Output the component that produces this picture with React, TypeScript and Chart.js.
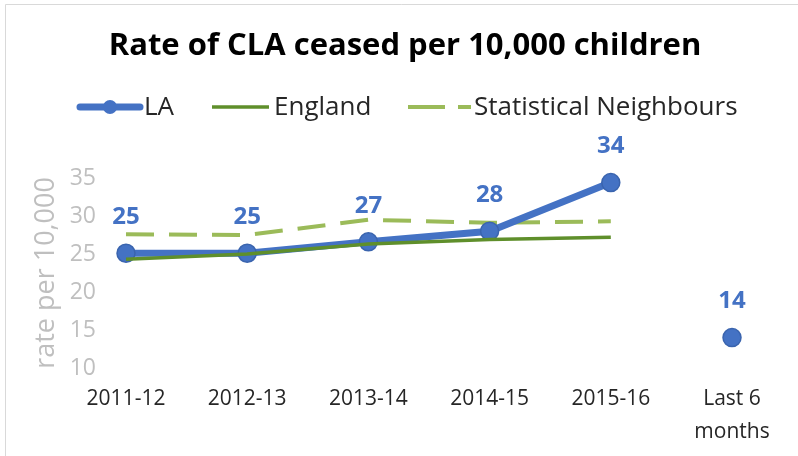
import React, { useEffect, useRef } from "react";
import { Chart, registerables } from "chart.js";

Chart.register(...registerables);

const categories: (string | string[])[] = ["2011-12", "2012-13", "2013-14", "2014-15", "2015-16", ["Last 6", "months"]];
const laValues: (number | null)[] = [25.1, 25.1, 26.6, 28.0, 34.4, 14.0];
const laLabels: string[] = ["25", "25", "27", "28", "34", "14"];
const englandValues: (number | null)[] = [24.3, 25.0, 26.3, 26.9, 27.2, null];
const snValues: (number | null)[] = [27.6, 27.5, 29.5, 29.1, 29.3, null];
const yTicks = { min: 10, max: 35, step: 5 };

const TITLE = "Rate of CLA ceased per 10,000 children";
const BLUE = "#4472C4";
const BLUE_DARK = "#3A64AE";
const GREEN = "#5F8F2B";
const LIGHT_GREEN = "#9BBB59";
const GRAY = "#BFBFBF";
const TEXT = "#262626";

const decorPlugin = {
  id: "decor",
  beforeDraw(chart: any) {
    const ctx = chart.ctx;
    ctx.save();
    ctx.fillStyle = "#ffffff";
    ctx.fillRect(0, 0, chart.width, chart.height);
    ctx.strokeStyle = "#D9D9D9";
    ctx.lineWidth = 1;
    ctx.beginPath();
    ctx.moveTo(5.5, chart.height);
    ctx.lineTo(5.5, 4.5);
    ctx.lineTo(chart.width, 4.5);
    ctx.stroke();
    ctx.restore();
  },
  afterDraw(chart: any) {
    const ctx = chart.ctx;
    ctx.save();
    // title
    ctx.fillStyle = "#000000";
    ctx.font = "bold 31px 'Open Sans'";
    ctx.textAlign = "center";
    ctx.textBaseline = "middle";
    ctx.fillText(TITLE, 405, 46);

    // legend
    const ly = 107;
    ctx.textAlign = "left";
    ctx.font = "26px 'Open Sans'";
    ctx.fillStyle = TEXT;
    // LA
    ctx.strokeStyle = BLUE;
    ctx.lineWidth = 7;
    ctx.lineCap = "round";
    ctx.beginPath();
    ctx.moveTo(80, ly);
    ctx.lineTo(140, ly);
    ctx.stroke();
    ctx.fillStyle = BLUE;
    ctx.beginPath();
    ctx.arc(110, ly, 7, 0, Math.PI * 2);
    ctx.fill();
    ctx.fillStyle = TEXT;
    ctx.fillText("LA", 144, ly + 1);
    // England
    ctx.lineCap = "butt";
    ctx.strokeStyle = GREEN;
    ctx.lineWidth = 3.5;
    ctx.beginPath();
    ctx.moveTo(212, ly);
    ctx.lineTo(269, ly);
    ctx.stroke();
    ctx.fillText("England", 274, ly + 1);
    // SN
    ctx.strokeStyle = LIGHT_GREEN;
    ctx.lineWidth = 4;
    ctx.setLineDash([37, 13]);
    ctx.beginPath();
    ctx.moveTo(408, ly);
    ctx.lineTo(471, ly);
    ctx.stroke();
    ctx.setLineDash([]);
    ctx.fillText("Statistical Neighbours", 474, ly + 1);

    // data labels
    const meta = chart.getDatasetMeta(1);
    ctx.font = "bold 24px 'Open Sans'";
    ctx.fillStyle = BLUE;
    ctx.textAlign = "center";
    meta.data.forEach((pt: any, i: number) => {
      if (laValues[i] == null) return;
      ctx.fillText(laLabels[i], pt.x, pt.y - 36);
    });
    ctx.restore();
  },
};

export default function App() {
  const ref = useRef<HTMLCanvasElement | null>(null);
  useEffect(() => {
    if (!ref.current) return;
    const chart = new Chart(ref.current, {
      type: "line",
      data: {
        labels: categories,
        datasets: [
          {
            label: "England",
            data: englandValues,
            borderColor: GREEN,
            backgroundColor: GREEN,
            borderWidth: 3.5,
            pointRadius: 0,
            tension: 0,
          },
          {
            label: "LA",
            data: laValues,
            borderColor: BLUE,
            backgroundColor: BLUE,
            borderWidth: 7,
            pointRadius: 9,
            pointBorderWidth: 1.5,
            pointBorderColor: BLUE_DARK,
            pointBackgroundColor: BLUE,
            tension: 0,
            segment: {
              borderColor: (c: any) => (c.p1DataIndex === 5 ? "rgba(0,0,0,0)" : BLUE),
            },
          },
          {
            label: "Statistical Neighbours",
            data: snValues,
            borderColor: LIGHT_GREEN,
            backgroundColor: LIGHT_GREEN,
            borderWidth: 4,
            borderDash: [28, 15],
            pointRadius: 0,
            tension: 0,
          },
        ],
      },
      options: {
        animation: false,
        responsive: false,
        clip: false as any,
        layout: { padding: { top: 178, left: 30, right: 66, bottom: 0 } },
        plugins: {
          legend: { display: false },
          title: { display: false },
          tooltip: { enabled: false },
        },
        scales: {
          x: {
            offset: false,
            afterFit: (s: any) => {
              s.height = 88;
            },
            grid: { display: false, drawTicks: false },
            border: { display: false },
            ticks: {
              color: TEXT,
              font: { family: "Open Sans", size: 21, lineHeight: 1.55 },
              padding: 15,
              maxRotation: 0,
              autoSkip: false,
            },
          },
          y: {
            min: yTicks.min,
            max: yTicks.max,
            afterFit: (s: any) => {
              s.width = 96;
            },
            grid: { display: false, drawTicks: false },
            border: { display: false },
            ticks: {
              stepSize: yTicks.step,
              color: GRAY,
              font: { family: "Open Sans", size: 23 },
              padding: 30,
            },
            title: {
              display: true,
              text: "rate per 10,000",
              color: GRAY,
              font: { family: "Open Sans", size: 27 },
              padding: { top: 0, bottom: 0 },
            },
          },
        },
      },
      plugins: [decorPlugin],
    });
    return () => chart.destroy();
  }, []);
  return (
    <div style={{ position: "absolute", left: 0, top: 0, width: 798, height: 456 }}>
      <canvas ref={ref} width={798} height={456} style={{ width: 798, height: 456 }} />
    </div>
  );
}
